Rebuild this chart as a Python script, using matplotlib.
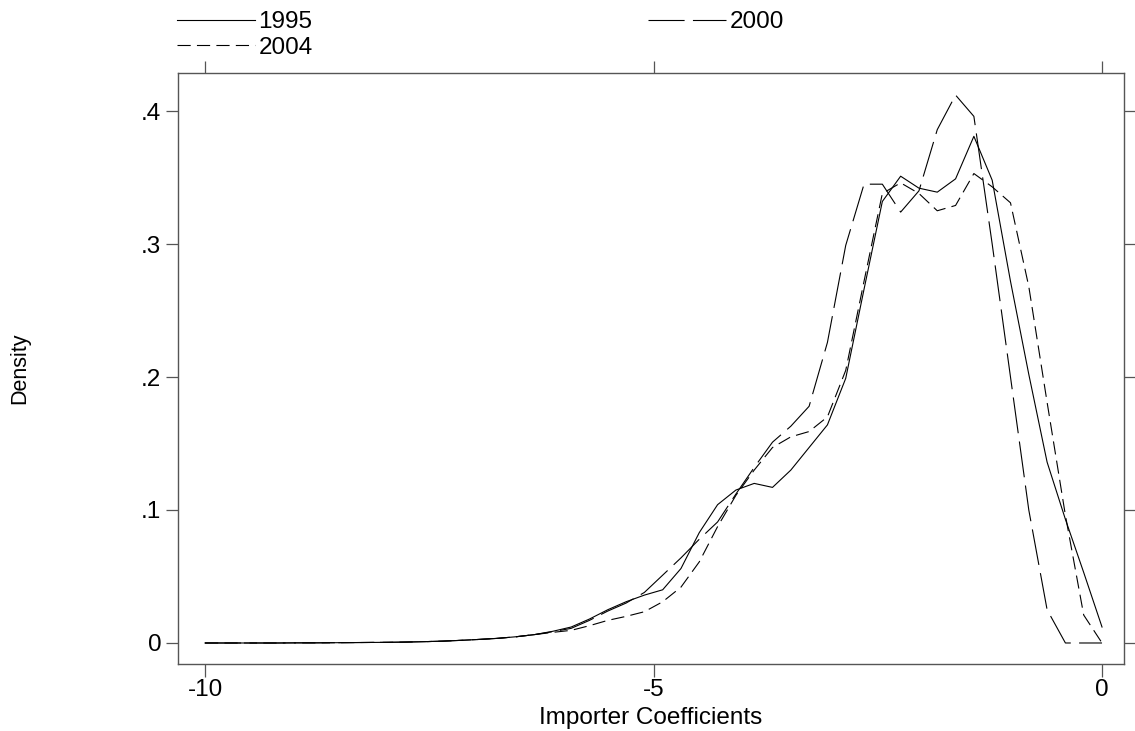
import numpy as np
import matplotlib
matplotlib.use("Agg")
import matplotlib.pyplot as plt

plt.rcParams['font.family'] = ['Liberation Sans', 'DejaVu Sans']
plt.rcParams['lines.scale_dashes'] = False

# ---- data (kernel density estimates at 50 grid points) ----
x = np.linspace(-10, 0, 50)

tail = [0, 0, 0, 0, 0, 0.0001, 0.0001, 0.0002, 0.0003, 0.0004, 0.0005,
        0.0007, 0.001, 0.0014, 0.002, 0.0027, 0.0035, 0.0047, 0.0063]

d1995 = tail + [0.0088, 0.012, 0.018, 0.025, 0.031, 0.036, 0.040, 0.056, 0.083,
                0.104, 0.115, 0.120, 0.117, 0.130, 0.147, 0.164, 0.199, 0.266,
                0.332, 0.351, 0.342, 0.339, 0.349, 0.381, 0.348, 0.272, 0.202,
                0.136, 0.093, 0.053, 0.012]

d2000 = tail + [0.0085, 0.011, 0.017, 0.024, 0.030, 0.038, 0.051, 0.064, 0.078,
                0.091, 0.112, 0.132, 0.151, 0.163, 0.178, 0.226, 0.299, 0.345,
                0.345, 0.324, 0.340, 0.386, 0.412, 0.396, 0.300, 0.200, 0.100,
                0.025, 0.0, 0.0, 0.0]

d2004 = tail + [0.008, 0.0095, 0.013, 0.017, 0.020, 0.0235, 0.031, 0.042, 0.061,
                0.0875, 0.111, 0.130, 0.147, 0.155, 0.159, 0.170, 0.205, 0.272,
                0.338, 0.346, 0.338, 0.325, 0.329, 0.353, 0.343, 0.331, 0.268,
                0.181, 0.096, 0.021, 0.0]

xticks = [-10, -5, 0]
xticklabels = ['-10', '-5', '0']
yticks = [0, 0.1, 0.2, 0.3, 0.4]
yticklabels = ['0', '.1', '.2', '.3', '.4']

# ---- figure ----
W, H = 1135, 731
fig = plt.figure(figsize=(W / 100, H / 100), dpi=100)
L, R, T, B = 178, 1124, 73, 664
ax = fig.add_axes([L / W, 1 - B / H, (R - L) / W, (B - T) / H])

lw = 0.8
l1, = ax.plot(x, d1995, color='black', lw=lw, label='1995')
l2, = ax.plot(x, d2000, color='black', lw=lw, label='2000', dashes=(26, 6))
l3, = ax.plot(x, d2004, color='black', lw=lw, label='2004', dashes=(9.5, 4.5))

ax.set_xlim(-10.301, 0.245)
ax.set_ylim(-0.0158, 0.4286)

fs = 17.5
ax.set_xticks(xticks)
ax.set_xticklabels(xticklabels, fontsize=fs)
ax.set_yticks(yticks)
ax.set_yticklabels(yticklabels, fontsize=fs)
ax.tick_params(axis='both', direction='out', length=9, width=0.9,
               color='#555555', top=True, right=True, pad=3)
ax.tick_params(axis='x', pad=2)

for s in ax.spines.values():
    s.set_color('#555555')
    s.set_linewidth(1.0)

ax.set_xlabel('Importer Coefficients', fontsize=fs, labelpad=4)
ax.set_ylabel('Density', fontsize=15.5, labelpad=80)

fig.legend(handles=[l1, l3, l2], labels=['1995', '2004', '2000'], ncol=2,
           loc='upper left', bbox_to_anchor=(177 / W, 1 - 11 / H),
           frameon=False, fontsize=fs, handlelength=3.2, handletextpad=0.15,
           columnspacing=13.8, labelspacing=0.16, borderpad=0, borderaxespad=0)

fig.savefig('out.png', dpi=100)
